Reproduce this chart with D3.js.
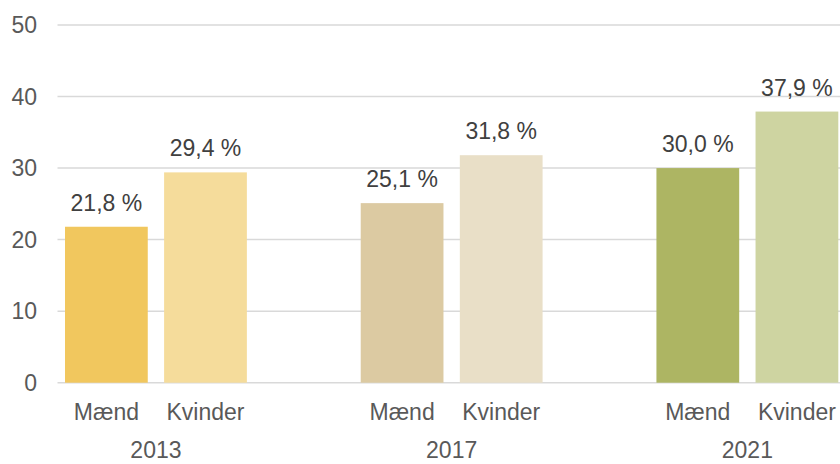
<!DOCTYPE html>
<html><head><meta charset="utf-8">
<script src="https://cdn.jsdelivr.net/npm/d3@7/dist/d3.min.js"></script>
<style>body{margin:0;background:#fff;} svg{display:block;font-family:"Liberation Sans",Arial,sans-serif;}</style>
</head><body>
<svg id="c" width="840" height="464"></svg>
<script>
const years = ["2013", "2017", "2021"];
const genders = ["Mænd", "Kvinder"];
const valuesMaend = [21.8, 25.1, 30.0];
const valuesKvinder = [29.4, 31.8, 37.9];
const yTicks = [0, 10, 20, 30, 40, 50];
const colors = {
  "2013": ["#F1C75E", "#F5DC9B"],
  "2017": ["#DCCAA2", "#E9DFC7"],
  "2021": ["#ADB563", "#CED4A1"]
};

const data = years.map((y, i) => ({year: y, vals: [
  {g: genders[0], v: valuesMaend[i], c: colors[y][0]},
  {g: genders[1], v: valuesKvinder[i], c: colors[y][1]}
]}));

const svg = d3.select("#c");
const y = d3.scaleLinear().domain([0, 50]).range([382.7, 25]);
const x0 = d3.scaleBand().domain(years).range([65, 838.3]).paddingInner(0.385).paddingOuter(0);
const x1 = d3.scaleBand().domain(genders).range([0, x0.bandwidth()]).paddingInner(0.165).paddingOuter(0);

const FS = 23;

// gridlines
svg.append("g").selectAll("line").data(yTicks).join("line")
  .attr("x1", 57.5).attr("x2", 840)
  .attr("y1", d => y(d)).attr("y2", d => y(d))
  .attr("stroke", "#D9D9D9").attr("stroke-width", 1.5);

// y labels
svg.append("g").selectAll("text").data(yTicks).join("text")
  .attr("x", 37).attr("y", d => y(d)).attr("dy", "0.35em")
  .attr("text-anchor", "end").attr("font-size", FS).attr("fill", "#595959")
  .text(d => d);

const grp = svg.append("g").selectAll("g").data(data).join("g")
  .attr("transform", d => `translate(${x0(d.year)},0)`);

grp.selectAll("rect").data(d => d.vals).join("rect")
  .attr("x", d => x1(d.g)).attr("width", x1.bandwidth())
  .attr("y", d => y(d.v)).attr("height", d => y(0) - y(d.v))
  .attr("fill", d => d.c);

grp.selectAll("text.val").data(d => d.vals).join("text").attr("class", "val")
  .attr("x", d => x1(d.g) + x1.bandwidth() / 2).attr("y", d => y(d.v) - 16)
  .attr("text-anchor", "middle").attr("font-size", FS).attr("fill", "#404040")
  .text(d => d3.format(".1f")(d.v).replace(".", ",") + " %");

grp.selectAll("text.cat").data(d => d.vals).join("text").attr("class", "cat")
  .attr("x", d => x1(d.g) + x1.bandwidth() / 2).attr("y", 419.5)
  .attr("text-anchor", "middle").attr("font-size", FS).attr("fill", "#595959")
  .text(d => d.g);

grp.append("text")
  .attr("x", x0.bandwidth() / 2).attr("y", 458)
  .attr("text-anchor", "middle").attr("font-size", FS).attr("fill", "#595959")
  .text(d => d.year);
</script>
</body></html>
